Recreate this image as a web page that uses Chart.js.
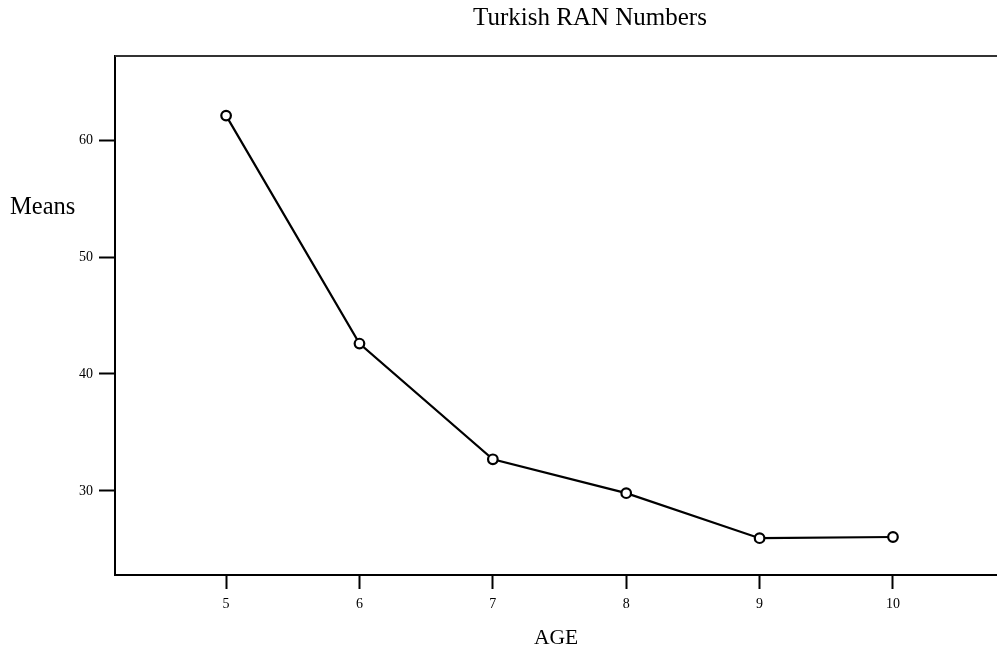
<!DOCTYPE html>
<html>
<head>
<meta charset="utf-8">
<script src="https://cdn.jsdelivr.net/npm/chart.js@4.4.0/dist/chart.umd.min.js"></script>
<style>
  html, body { margin: 0; padding: 0; background: #fff; overflow: hidden; }
  #wrap { width: 997px; height: 654px; }
</style>
</head>
<body>
<div id="wrap"><canvas id="lineChart"></canvas></div>
<script>
var ages = [5, 6, 7, 8, 9, 10];
var means = [62.1, 42.6, 32.7, 29.8, 25.95, 26.05];
var yTicks = [30, 40, 50, 60];
var chartTitle = "Turkish RAN Numbers";
var yTitle = "Means";
var xTitle = "AGE";

var serif = "'Liberation Serif', 'Times New Roman', serif";

// titles and top frame line, drawn by hand since the layout is SPSS-like
var frameAndTitles = {
  id: "frameAndTitles",
  afterDraw: function(chart) {
    var ctx = chart.ctx;
    var area = chart.chartArea;
    ctx.save();
    ctx.strokeStyle = "#333";
    ctx.lineWidth = 2;
    ctx.beginPath();
    ctx.moveTo(area.left, area.top);
    ctx.lineTo(chart.width, area.top);
    ctx.stroke();

    ctx.fillStyle = "#000";
    ctx.textBaseline = "alphabetic";
    ctx.textAlign = "center";
    ctx.font = "25px " + serif;
    ctx.fillText(chartTitle, 590, 25);
    ctx.textAlign = "left";
    ctx.font = "24.5px " + serif;
    ctx.fillText(yTitle, 10, 214);
    ctx.restore();
  }
};

var ctx = document.getElementById("lineChart");

var lineChart = new Chart(ctx, {
  type: "line",
  data: {
    datasets: [{
      data: ages.map(function(a, i) { return { x: a, y: means[i] }; }),
      borderColor: "#000",
      borderWidth: 2.2,
      pointRadius: 4.8,
      pointBorderWidth: 2.2,
      pointBorderColor: "#000",
      pointBackgroundColor: "#fff",
      tension: 0,
      fill: false
    }]
  },
  options: {
    responsive: true,
    maintainAspectRatio: false,
    animation: false,
    layout: {
      autoPadding: false,
      padding: { top: 56, right: 0, left: 0, bottom: 0 }
    },
    plugins: {
      legend: { display: false },
      tooltip: { enabled: false }
    },
    scales: {
      x: {
        type: "linear",
        min: 4.167,
        max: 10.78,
        afterBuildTicks: function(scale) {
          scale.ticks = ages.map(function(v) { return { value: v }; });
        },
        afterFit: function(scale) {
          scale.height = 79;
          scale.paddingLeft = 0;
          scale.paddingRight = 0;
        },
        border: { display: true, color: "#000", width: 2 },
        grid: {
          drawOnChartArea: false,
          drawTicks: true,
          tickLength: 14,
          tickWidth: 2,
          tickColor: "#000"
        },
        ticks: {
          color: "#000",
          padding: 7,
          maxRotation: 0,
          font: { family: serif, size: 14 }
        },
        title: {
          display: true,
          text: xTitle,
          color: "#000",
          font: { family: serif, size: 21.5 },
          padding: { top: 0, bottom: 3 }
        }
      },
      y: {
        type: "linear",
        min: 22.8,
        max: 67.2,
        afterBuildTicks: function(scale) {
          scale.ticks = yTicks.map(function(v) { return { value: v }; });
        },
        afterFit: function(scale) {
          scale.width = 115;
          scale.paddingTop = 0;
          scale.paddingBottom = 0;
        },
        border: { display: true, color: "#000", width: 2 },
        grid: {
          drawOnChartArea: false,
          drawTicks: true,
          tickLength: 16,
          tickWidth: 2,
          tickColor: "#000"
        },
        ticks: {
          color: "#000",
          padding: 6,
          font: { family: serif, size: 14 }
        }
      }
    }
  },
  plugins: [frameAndTitles]
});
</script>
</body>
</html>
